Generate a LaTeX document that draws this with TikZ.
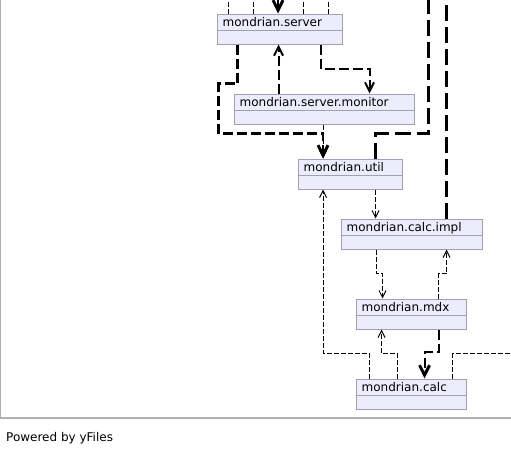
\documentclass[tikz,border=0pt]{standalone}
\usepackage{fontspec}
\setmainfont{DejaVu Sans}
\usetikzlibrary{arrows.meta,calc}
\definecolor{pkgfill}{RGB}{236,236,252}
\definecolor{pkgline}{RGB}{160,160,176}
\definecolor{framegray}{RGB}{176,176,176}
\tikzset{
  pkg/.style={draw=pkgline, fill=pkgfill, line width=1pt, rectangle,
    anchor=north west, inner sep=0pt, minimum height=30pt},
  pkgname/.style={anchor=base west, inner sep=0pt, font=\fontsize{12}{14}\selectfont},
  divider/.style={draw=pkgline, line width=1pt},
  w1/.style={line width=1pt, dash pattern=on 5pt off 2pt},
  w2/.style={line width=2pt, dash pattern=on 10pt off 4pt},
  w3/.style={line width=3pt, dash pattern=on 16pt off 6pt},
  tip1/.style={-{Straight Barb[length=7pt,width=7pt,line width=1pt]}},
  tip2/.style={-{Straight Barb[length=9pt,width=9pt,line width=2pt]}},
  tip3/.style={-{Straight Barb[length=10pt,width=10pt,line width=3pt]}},
}
\newcommand{\pkgbox}[5]{%
  \node[pkg, minimum width=#4pt] (#1) at (#2,#3) {};
  \draw[divider] ($(#1.north west)+(0,17)$) -- ($(#1.north east)+(0,17)$);
  \node[pkgname] (#1-name) at ($(#1.north west)+(6,13)$) {#5};
}
\begin{document}
\begin{tikzpicture}[x=1pt,y=-1pt]
  \useasboundingbox (0,0) rectangle (511,453);
  % outer frame
  \draw[framegray, line width=1.2pt] (0.6,0) -- (0.6,418) -- (511,418);
  \node[pkgname] (credit) at (6,441.5) {Powered by yFiles};

  % free ends leaving the visible area
  \coordinate (t1) at (228.5,0);
  \coordinate (t2) at (253.5,0);
  \coordinate (t3) at (278,0);
  \coordinate (t4) at (303.5,0);
  \coordinate (t5) at (328.5,0);
  \coordinate (topU) at (428.5,0);
  \coordinate (topI) at (446.5,0);
  \coordinate (rightC) at (511,353.5);

  % package boxes
  \pkgbox{server}{216.5}{13.5}{125}{mondrian.server}
  \pkgbox{monitor}{233.5}{93.5}{180}{mondrian.server.monitor}
  \pkgbox{util}{297.5}{158.5}{104}{mondrian.util}
  \pkgbox{impl}{340.5}{218.5}{141}{mondrian.calc.impl}
  \pkgbox{mdx}{355.5}{298.5}{110}{mondrian.mdx}
  \pkgbox{calc}{355.5}{378.5}{110}{mondrian.calc}

  % mondrian.server leaving upwards
  \draw[w1] ([xshift=12pt]server.north west) -- (t1);
  \draw[w1] ([xshift=37pt]server.north west) -- (t2);
  \draw[w1] ([xshift=87pt]server.north west) -- (t4);
  \draw[w1] ([xshift=112pt]server.north west) -- (t5);
  % into mondrian.server from above
  \draw[w2,tip3] (t3) -- ([xshift=61.5pt]server.north west);

  % mondrian.server -> mondrian.util
  \draw[w2,line width=2.5pt,tip3] ([xshift=21pt]server.south west) |- (218.5,83.5)
     -- (218.5,133.5) -| ([xshift=25.5pt]util.north west);
  % mondrian.server.monitor -> mondrian.server
  \draw[w2,tip2] ([xshift=45pt]monitor.north west) -- ([xshift=62pt]server.south west);
  % mondrian.server -> mondrian.server.monitor
  \draw[w2,tip2] ([xshift=104pt]server.south west) |- (369.5,68.5)
     -- ([xshift=136pt]monitor.north west);
  % mondrian.server.monitor -> mondrian.util
  \draw[w1,tip1] ([xshift=89.5pt]monitor.south west) -- ([xshift=25.5pt]util.north west);
  % mondrian.util leaving upwards
  \draw[w3] ([xshift=78pt]util.north west) |- (428.5,133.5) -- (topU);
  % mondrian.calc.impl leaving upwards
  \draw[w3] ([xshift=106pt]impl.north west) -- (topI);
  % mondrian.util -> mondrian.calc.impl
  \draw[w1,tip1] ([xshift=78pt]util.south west) -- ([xshift=35pt]impl.north west);
  % mondrian.calc -> mondrian.util
  \draw[w1,tip1] ([xshift=14pt]calc.north west) |- (323,353.5)
     -- ([xshift=25.5pt]util.south west);
  % mondrian.calc.impl -> mondrian.mdx
  \draw[w1,tip1] ([xshift=36pt]impl.south west) |- (382.5,273.5)
     -- ([xshift=27pt]mdx.north west);
  % mondrian.mdx -> mondrian.calc.impl
  \draw[w1,tip1] ([xshift=83pt]mdx.north west) |- (446.5,273.5)
     -- ([xshift=106pt]impl.south west);
  % mondrian.calc -> mondrian.mdx
  \draw[w1,tip1] ([xshift=42pt]calc.north west) |- (381.5,353.5)
     -- ([xshift=26pt]mdx.south west);
  % mondrian.mdx -> mondrian.calc
  \draw[w2,tip3] ([xshift=83pt]mdx.south west) |- (424.5,351.5)
     -- ([xshift=69pt]calc.north west);
  % mondrian.calc leaving to the right
  \draw[w1] ([xshift=97pt]calc.north west) |- (rightC);
\end{tikzpicture}
\end{document}
